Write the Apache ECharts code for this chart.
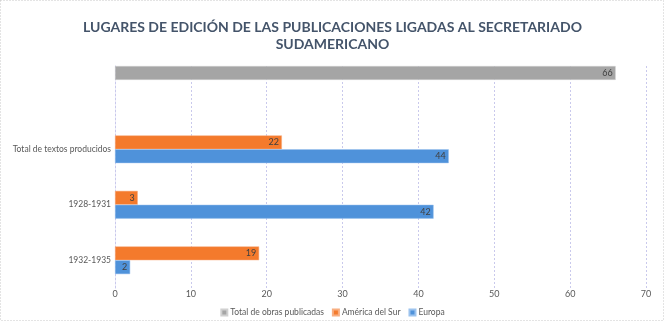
<!DOCTYPE html>
<html>
<head>
<meta charset="utf-8">
<script src="https://cdn.jsdelivr.net/npm/echarts@6/dist/echarts.min.js"></script>
<style>
  html, body { margin: 0; padding: 0; background: #fff; }
  #chart { width: 665px; height: 322px; }
</style>
</head>
<body>
<div id="chart"></div>
<script>
    // categorias de abajo hacia arriba (la de arriba no tiene rotulo)
    const categories = ['1932-1935', '1928-1931', 'Total de textos producidos', '']
    const totalObras = [null, null, null, 66]
    const americaSur = [19, 3, 22, null]
    const europa = [2, 42, 44, null]
    const xTicks = { min: 0, max: 70, interval: 10 }

    const labelStyle = {
        show: true,
        position: 'insideRight',
        color: '#404040',
        fontSize: 9,
        fontFamily: 'Lato',
        distance: 3
    }

    const chart = echarts.init(document.getElementById('chart'))
    const option = {
        animation: false,
        textStyle: { fontFamily: 'Lato' },
        title: {
            text: 'LUGARES DE EDICIÓN DE LAS PUBLICACIONES LIGADAS AL SECRETARIADO\nSUDAMERICANO',
            left: 'center',
            top: 14,
            textStyle: {
                color: '#44546a',
                fontSize: 14,
                fontWeight: 'bold',
                fontFamily: 'Lato',
                lineHeight: 17
            }
        },
        legend: {
            bottom: 0,
            left: 'center',
            itemWidth: 6,
            itemHeight: 6,
            itemGap: 8,
            icon: 'rect',
            data: ['Total de obras publicadas', 'América del Sur', 'Europa'],
            textStyle: { color: '#595959', fontSize: 8.5, fontFamily: 'Lato', padding: [0, 0, 0, -2] }
        },
        grid: {
            left: 115,
            right: 19,
            top: 66,
            height: 222
        },
        xAxis: {
            type: 'value',
            min: xTicks.min,
            max: xTicks.max,
            interval: xTicks.interval,
            axisLine: { show: false },
            axisTick: { show: false },
            axisLabel: { color: '#595959', fontSize: 9, margin: 2 },
            splitLine: { lineStyle: { color: '#c9c9ec', type: [2, 2] } }
        },
        yAxis: {
            type: 'category',
            data: categories,
            axisLine: { show: true, lineStyle: { color: '#c9c9ec', type: [2, 2] } },
            axisTick: { show: false },
            axisLabel: { color: '#595959', fontSize: 8.5, margin: 4 }
        },
        series: [
            {
                type: 'bar', name: 'Total de obras publicadas', data: totalObras,
                barGap: '0%', barCategoryGap: '0%',
                itemStyle: { color: '#a5a5a5', borderColor: '#d0d0d0', borderWidth: 0.5 },
                label: labelStyle
            },
            {
                type: 'bar', name: 'América del Sur', data: americaSur,
                itemStyle: { color: '#f47a2c', borderColor: '#f8ae80', borderWidth: 0.5 },
                label: labelStyle
            },
            {
                type: 'bar', name: 'Europa', data: europa,
                itemStyle: { color: '#4f92da', borderColor: '#9cc3ee', borderWidth: 0.5 },
                label: labelStyle
            },
            // hueco vacio en la parte de abajo de cada grupo
            { type: 'bar', name: 'hueco', data: [null, null, null, null] }
        ],
        graphic: [{
            type: 'rect',
            shape: { x: 0.5, y: 0.5, width: 663, height: 320 },
            style: { fill: 'none', stroke: '#c8c8c8', lineDash: [1, 2], lineWidth: 1 },
            silent: true
        }]
    }
    chart.setOption(option)
</script>
</body>
</html>
